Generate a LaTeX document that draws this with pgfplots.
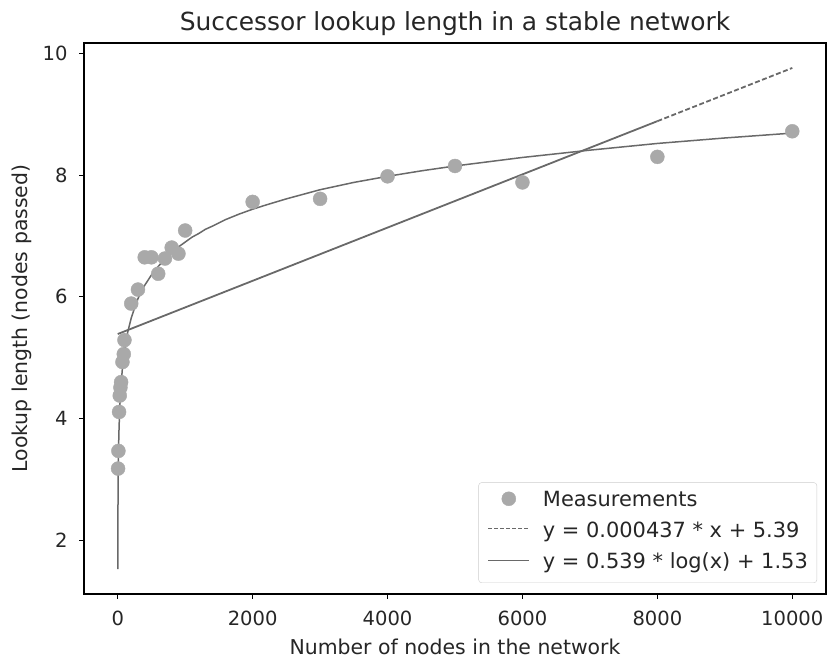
\documentclass[border=0pt]{standalone}
\usepackage{fontspec}
\setmainfont{DejaVu Sans}
\usepackage{pgfplots}
\pgfplotsset{compat=1.18}

\definecolor{ptgray}{HTML}{A9A9A9}
\definecolor{fitgray}{HTML}{696969}
\definecolor{frame}{HTML}{CCCCCC}

\begin{document}
\begin{tikzpicture}[x=1bp,y=1bp]
\path[use as bounding box] (-84,-66) rectangle (743,594);
\begin{axis}[
  at={(0,0)}, anchor=south west,
  scale only axis, width=742bp, height=551bp,
  xmin=-500, xmax=10500, ymin=1.12, ymax=10.17,
  xtick={0,2000,4000,6000,8000,10000},
  ytick={2,4,6,8,10},
  scaled ticks=false,
  /pgf/number format/1000 sep={},
  /pgf/number format/assume math mode=true,
  tick align=outside, major tick length=5bp,
  xtick pos=bottom, ytick pos=left,
  axis line style={line width=1.1bp},
  every tick/.style={black, line width=1.1bp},
  font=\fontsize{20.5}{24.6}\selectfont,
  ticklabel style={font=\fontsize{19.6}{23}\selectfont, text=black!85},
  xticklabel style={anchor=base, yshift=-26bp},
  yticklabel style={anchor=east, xshift=-8bp},
  title={Successor lookup length in a stable network},
  title style={font=\fontsize{25}{30}\selectfont, anchor=base, at={(0.5,1)}, yshift=7bp, text=black!85},
  xlabel={Number of nodes in the network},
  xlabel style={at={(0.5,0)}, anchor=base, yshift=-60bp, text=black!85},
  ylabel={Lookup length (nodes passed)},
  ylabel style={at={(-0.0755,0.5)}, anchor=base, text=black!85},
  legend cell align=left,
  legend style={at={(0.9879,0.02)}, anchor=south east,
    draw=frame, rounded corners=3bp, fill=white,
    font=\fontsize{21}{25}\selectfont, text=black!85,
    inner xsep=9bp, inner ysep=9bp, row sep=11bp, column sep=13bp,
    nodes={inner xsep=0bp, inner ysep=0bp, text height=15bp, text depth=5bp}},
]
% measured lookup lengths
\addplot[only marks, mark=*, mark size=7bp, color=ptgray,
  legend image code/.code={\path[draw=none] (0bp,3bp) -- (41bp,3bp); \fill[ptgray] (20.5bp,3bp) circle (7bp);}]
  coordinates {
  (5,3.18) (10,3.47) (20,4.11) (30,4.38) (40,4.51) (50,4.60)
  (70,4.93) (90,5.06) (100,5.29) (200,5.89) (300,6.12) (400,6.65)
  (500,6.65) (600,6.38) (700,6.63) (800,6.81) (900,6.71) (1000,7.09)
  (2000,7.56) (3000,7.61) (4000,7.98) (5000,8.15) (6000,7.88)
  (8000,8.30) (10000,8.72)
};
\addlegendentry{Measurements}
% linear least-squares fit, y = 0.000437 x + 5.39
\addplot[color=fitgray, line width=1.8bp, dash pattern=on 5bp off 2.5bp,
  legend image code/.code={\draw[fitgray, line width=1.3bp, dash pattern=on 4bp off 2bp] (0bp,4bp) -- (41bp,4bp);}]
  coordinates {(8000,8.886) (10000,9.760)};
\addlegendentry{y = 0.000437 * x + 5.39}
\addplot[color=fitgray, line width=1.8bp, forget plot]
  coordinates {(0,5.390) (8000,8.886)};
% logarithmic fit, y = 0.539 log2(x) + 1.53
\addplot[color=fitgray, line width=1.5bp,
  legend image code/.code={\draw[fitgray, line width=1.3bp] (0bp,3bp) -- (41bp,3bp);}]
  coordinates {
  (1,1.53) (1.5,1.85) (2,2.07) (3,2.38) (5,2.78) (7,3.04) (10,3.32)
  (15,3.64) (20,3.86) (30,4.17) (40,4.40) (50,4.57) (70,4.83)
  (90,5.03) (100,5.11) (150,5.43) (200,5.65) (250,5.82) (300,5.97)
  (350,6.09) (400,6.19) (500,6.36) (600,6.50) (700,6.62) (800,6.73)
  (900,6.82) (1000,6.90) (1100,6.98) (1200,7.04) (1300,7.11)
  (1400,7.16) (1600,7.27) (1800,7.36) (2000,7.44) (2200,7.51)
  (2500,7.61) (2800,7.70) (3000,7.76) (3500,7.88) (4000,7.98)
  (4500,8.07) (5000,8.15) (6000,8.29) (7000,8.41) (8000,8.52)
  (9000,8.61) (10000,8.69)
};
\addlegendentry{y = 0.539 * log(x) + 1.53}
\end{axis}
\end{tikzpicture}
\end{document}
